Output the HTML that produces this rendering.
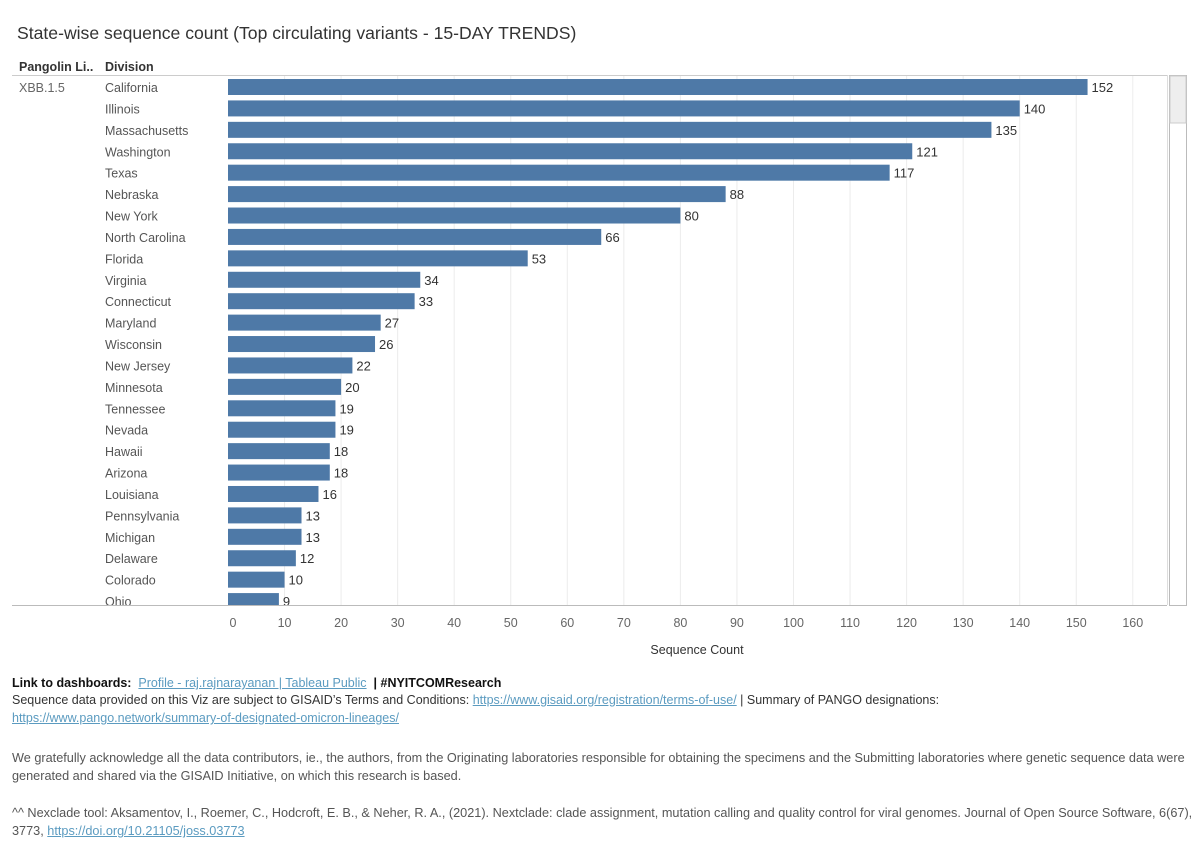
<!DOCTYPE html>
<html><head><meta charset="utf-8"><style>
body{margin:0;background:#fff;width:1200px;height:851px;overflow:hidden;font-family:"Liberation Sans","DejaVu Sans",sans-serif;position:relative}
.t{position:absolute;white-space:nowrap}
a{color:#5b9bc0;text-decoration:underline}
</style></head><body>
<div class="t" style="left:17px;top:23px;font-size:17.6px;color:#333">State-wise sequence count (Top circulating variants - 15-DAY TRENDS)</div>
<svg id="chart" width="1200" height="670" style="position:absolute;left:0;top:0" font-family="Liberation Sans, DejaVu Sans, sans-serif"></svg>
<div class="t" style="left:12px;top:676px;font-size:12.5px;color:#111"><b>Link to dashboards:</b>&nbsp; <a>Profile - raj.rajnarayanan | Tableau Public</a>&nbsp; <b>| #NYITCOMResearch</b></div>
<div class="t" style="left:12px;top:693px;font-size:12.5px;color:#333">Sequence data provided on this Viz are subject to GISAID’s Terms and Conditions: <a>https://www.gisaid.org/registration/terms-of-use/</a> | Summary of PANGO designations:</div>
<div class="t" style="left:12px;top:711px;font-size:12.5px"><a>https://www.pango.network/summary-of-designated-omicron-lineages/</a></div>
<div class="t" style="left:12px;top:749px;font-size:12.7px;color:#555;line-height:18px">We gratefully acknowledge all the data contributors, ie., the authors, from the Originating laboratories responsible for obtaining the specimens and the Submitting laboratories where genetic sequence data were<br>generated and shared via the GISAID Initiative, on which this research is based.</div>
<div class="t" style="left:12px;top:804px;font-size:12.7px;color:#555;line-height:18px">^^ Nexclade tool: Aksamentov, I., Roemer, C., Hodcroft, E. B., &amp; Neher, R. A., (2021). Nextclade: clade assignment, mutation calling and quality control for viral genomes. Journal of Open Source Software, 6(67),<br>3773, <a>https://doi.org/10.21105/joss.03773</a></div>
<script>
const states=["California","Illinois","Massachusetts","Washington","Texas","Nebraska","New York","North Carolina","Florida","Virginia","Connecticut","Maryland","Wisconsin","New Jersey","Minnesota","Tennessee","Nevada","Hawaii","Arizona","Louisiana","Pennsylvania","Michigan","Delaware","Colorado","Ohio"];
const counts=[152,140,135,121,117,88,80,66,53,34,33,27,26,22,20,19,19,18,18,16,13,13,12,10,9];
const ticks=[0,10,20,30,40,50,60,70,80,90,100,110,120,130,140,150,160];
const NS="http://www.w3.org/2000/svg";
const svg=document.getElementById('chart');
const x0=228,k=5.655,top0=75,bot=605,rowH=21.42,barH=16;
const xs=v=>x0+v*k, yc=i=>87+i*rowH;
function mk(t,a,p){const e=document.createElementNS(NS,t);for(const n in a)e.setAttribute(n,a[n]);(p||svg).appendChild(e);return e;}
let h=mk('text',{x:19,y:71,'font-size':12.5,'font-weight':'bold',fill:'#333'});h.textContent='Pangolin Li..';

h=mk('text',{x:105,y:71,'font-size':12.5,'font-weight':'bold',fill:'#333'});h.textContent='Division';

mk('line',{x1:12,x2:1167,y1:75.5,y2:75.5,stroke:'#ccc'});
mk('line',{x1:12,x2:1167,y1:605.5,y2:605.5,stroke:'#bbb'});
mk('line',{x1:1167.5,x2:1167.5,y1:75,y2:605,stroke:'#ddd'});
ticks.forEach(t=>{if(t>0)mk('line',{x1:xs(t),x2:xs(t),y1:76,y2:605,stroke:'#ececec'});
 const tx=mk('text',{x:t===0?233:xs(t),y:627,'font-size':12.5,fill:'#666','text-anchor':'middle'});tx.textContent=t;
 });
const at=mk('text',{x:697,y:654,'font-size':12.5,fill:'#333','text-anchor':'middle'});at.textContent='Sequence Count';

const cp=mk('clipPath',{id:'cp'});mk('rect',{x:0,y:76,width:1167,height:529},cp);
const g=mk('g',{'clip-path':'url(#cp)'});
const lv=mk('text',{x:19,y:92,'font-size':12.5,fill:'#666'},g);lv.textContent='XBB.1.5';

states.forEach((s,i)=>{const y=yc(i);
 const l=mk('text',{x:105,y:y+5,'font-size':12.5,fill:'#555'},g);l.textContent=s;
 
 const b=mk('rect',{x:x0,y:y-barH/2,width:xs(counts[i])-x0,height:barH,fill:'#4e79a7'},g);
 
 const v=mk('text',{x:xs(counts[i])+4,y:y+5,'font-size':13,fill:'#333'},g);v.textContent=counts[i];
 });
const sb=mk('rect',{x:1169.5,y:75.5,width:17,height:530,fill:'#fff',stroke:'#bbb'});

const th=mk('rect',{x:1170,y:76,width:16,height:47,fill:'#eee',stroke:'#ccc'});

</script>
</body></html>
